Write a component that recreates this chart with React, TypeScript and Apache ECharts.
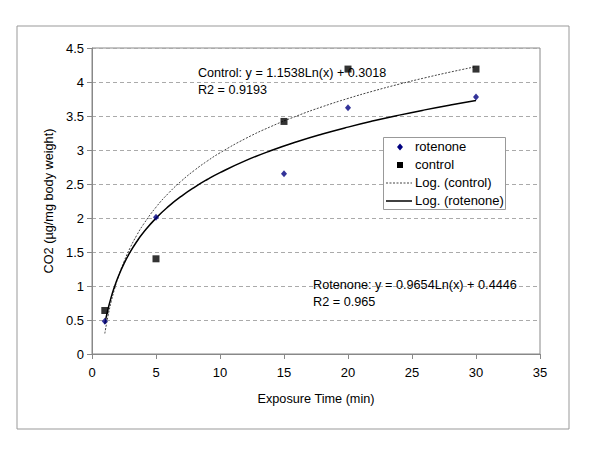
import React, { useEffect, useRef } from "react";
import * as echarts from "echarts";

const rotenoneX = [1, 5, 15, 20, 30];
const rotenoneY = [0.48, 2.01, 2.65, 3.62, 3.78];
const controlX = [1, 5, 15, 20, 30];
const controlY = [0.64, 1.4, 3.42, 4.19, 4.19];
// Trendline coefficients as printed on the chart: y = a*ln(x) + b
const controlFit = { a: 1.1538, b: 0.3018 };
const rotenoneFit = { a: 0.9654, b: 0.4446 };
const trendXs = [1, 1.25, 1.5, 1.75, 2, 2.5, 3, 3.5, 4, 5, 6, 7, 8, 9, 10, 12, 14, 16, 18, 20, 22, 24, 26, 28, 30];
const legendNames = ["rotenone", "control", "Log. (control)", "Log. (rotenone)"];

const font = "'Liberation Sans', Arial, sans-serif";

export default function App() {
  const ref = useRef<HTMLDivElement>(null);
  useEffect(() => {
    if (!ref.current) return;
    const chart = echarts.init(ref.current, undefined, { renderer: "svg" });
    const trend = (f: { a: number; b: number }) => trendXs.map((x) => [x, f.a * Math.log(x) + f.b]);
    const lx = 383, ly = 137, rowY = [147, 165, 183, 201];
    chart.setOption({
      animation: false,
      backgroundColor: "#fff",
      textStyle: { fontFamily: font, color: "#000" },
      grid: { left: 92, right: 60, top: 48, bottom: 105, show: true, borderColor: "#888", borderWidth: 1 },
      xAxis: {
        type: "value",
        min: 0,
        max: 35,
        interval: 5,
        name: "Exposure Time (min)",
        nameLocation: "middle",
        nameGap: 38,
        nameTextStyle: { fontSize: 12.7, color: "#000" },
        axisLine: { lineStyle: { color: "#888" } },
        axisTick: { show: true, length: 5, lineStyle: { color: "#888" } },
        axisLabel: { fontSize: 13, color: "#000", margin: 12 },
        splitLine: { show: false },
      },
      yAxis: {
        type: "value",
        min: 0,
        max: 4.5,
        interval: 0.5,
        name: "CO2 (µg/mg body weight)",
        nameLocation: "middle",
        nameGap: 34,
        nameTextStyle: { fontSize: 12.7, color: "#000" },
        axisLine: { show: true, lineStyle: { color: "#888" } },
        axisTick: { show: true, length: 5, lineStyle: { color: "#888" } },
        axisLabel: { fontSize: 13, color: "#000", margin: 8 },
        splitLine: { show: true, lineStyle: { color: "#aaa", type: [4, 3] } },
      },
      series: [
        {
          name: "Log. (control)",
          type: "line",
          data: trend(controlFit),
          showSymbol: false,
          symbol: "none",
          smooth: true,
          lineStyle: { color: "#444", width: 1, type: [2, 1.5] },
          z: 2,
        },
        {
          name: "Log. (rotenone)",
          type: "line",
          data: trend(rotenoneFit),
          showSymbol: false,
          symbol: "none",
          smooth: true,
          lineStyle: { color: "#000", width: 1.5 },
          z: 2,
        },
        {
          name: "rotenone",
          type: "scatter",
          symbol: "diamond",
          symbolSize: [6, 7],
          data: rotenoneX.map((x, i) => [x, rotenoneY[i]]),
          itemStyle: { color: "#000080" },
          z: 3,
        },
        {
          name: "control",
          type: "scatter",
          symbol: "rect",
          symbolSize: 7,
          data: controlX.map((x, i) => [x, controlY[i]]),
          itemStyle: { color: "#000" },
          z: 3,
        },
      ],
      graphic: [
        { type: "rect", shape: { x: 17, y: 26, width: 552, height: 403 }, style: { fill: "none", stroke: "#999", lineWidth: 1 }, z: -1 },
        { type: "text", left: 198, top: 66, style: { text: "Control: y = 1.1538Ln(x) + 0.3018", font: `12.6px ${font}`, fill: "#000" }, z: 10 },
        { type: "text", left: 198, top: 83, style: { text: "R2 = 0.9193", font: `12.6px ${font}`, fill: "#000" }, z: 10 },
        { type: "text", left: 313, top: 278, style: { text: "Rotenone: y = 0.9654Ln(x) + 0.4446", font: `12.7px ${font}`, fill: "#000" }, z: 10 },
        { type: "text", left: 313, top: 295, style: { text: "R2 = 0.965", font: `12.7px ${font}`, fill: "#000" }, z: 10 },
        // legend
        { type: "rect", shape: { x: lx + 0.5, y: ly + 0.5, width: 122, height: 72 }, style: { fill: "#fff", stroke: "#999", lineWidth: 1 }, z: 20 },
        { type: "polygon", shape: { points: [[400, rowY[0] - 3.5], [403, rowY[0]], [400, rowY[0] + 3.5], [397, rowY[0]]] }, style: { fill: "#000080" }, z: 21 },
        { type: "rect", shape: { x: 397, y: rowY[1] - 3, width: 6, height: 6 }, style: { fill: "#000" }, z: 21 },
        { type: "line", shape: { x1: 386, y1: rowY[2], x2: 412, y2: rowY[2] }, style: { stroke: "#444", lineWidth: 1, lineDash: [2, 1.5] }, z: 21 },
        { type: "line", shape: { x1: 386, y1: rowY[3], x2: 412, y2: rowY[3] }, style: { stroke: "#000", lineWidth: 1.5 }, z: 21 },
        ...legendNames.map((n, i) => ({
          type: "text",
          left: 415,
          top: rowY[i] - 7.5,
          style: { text: n, font: `13px ${font}`, fill: "#000" },
          z: 21,
        })),
      ],
    });
    return () => chart.dispose();
  }, []);
  return <div ref={ref} style={{ position: "fixed", left: 0, top: 0, width: 600, height: 459 }} />;
}
